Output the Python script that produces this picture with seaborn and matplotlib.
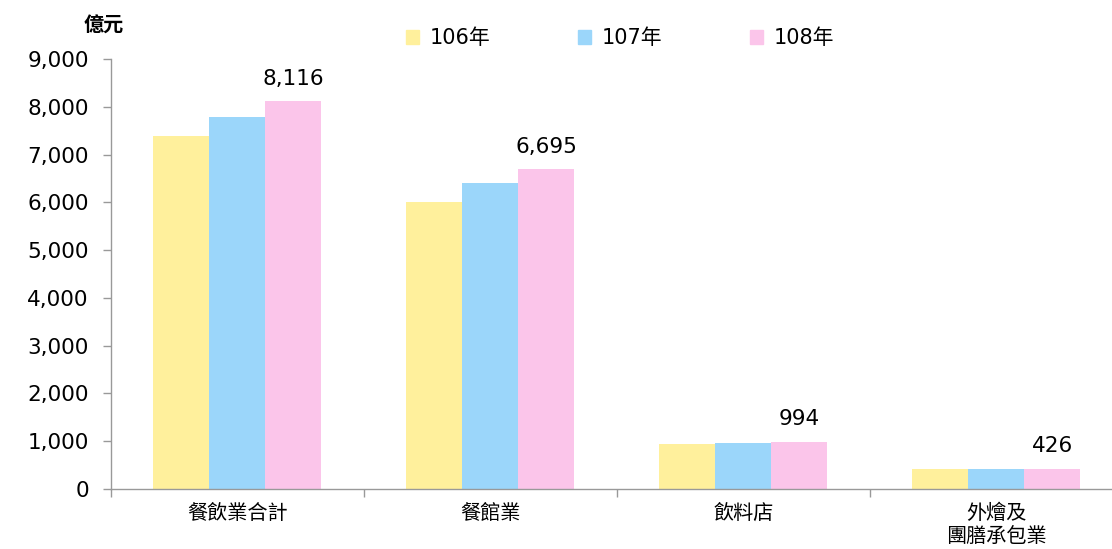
import matplotlib.pyplot as plt
import seaborn as sns
import pandas as pd
import numpy as np

sns.set_theme(style="white")
plt.rcParams["font.family"] = ["DejaVu Sans", "Noto Sans CJK TC"]
plt.rcParams["text.color"] = "black"
plt.rcParams["xtick.color"] = "black"
plt.rcParams["ytick.color"] = "black"

categories = ["餐飲業合計", "餐館業", "飲料店", "外燴及\n團膳承包業"]
years = ["106年", "107年", "108年"]
v106 = [7385, 6004, 941, 418]
v107 = [7782, 6402, 962, 420]
v108 = [8116, 6695, 994, 426]
colors = ["#FFF09C", "#9BD6FA", "#FBC5EA"]

df = pd.DataFrame({
    "類別": categories * 3,
    "年": [years[0]] * 4 + [years[1]] * 4 + [years[2]] * 4,
    "億元": v106 + v107 + v108,
})

fig = plt.figure(figsize=(11.12, 5.49), dpi=100)
ax = fig.add_axes([0.0998, 0.1093, 0.910, 0.7832])
sns.barplot(data=df, x="類別", y="億元", hue="年", hue_order=years,
            palette=colors, width=0.664, saturation=1, linewidth=0,
            ax=ax, legend=False)

# 只標示108年數值
ax.bar_label(ax.containers[2], labels=[f"{v:,}" for v in v108],
             padding=9, fontsize=15.5)

ax.set_ylim(0, 9000)
ax.set_xlim(-0.5, 3.5)
ax.set_yticks(np.arange(0, 9001, 1000))
ax.set_yticklabels([f"{v:,}" for v in range(0, 9001, 1000)], fontsize=15.5)
ax.set_xticks(range(4))
ax.set_xticklabels(categories, fontsize=14.5, linespacing=1.15,
                   family="Noto Sans CJK TC")
ax.tick_params(axis="x", length=0, pad=10)
ax.tick_params(axis="y", length=6, color="#999999", width=1, left=True, pad=10)
ax.set_xticks(np.arange(-0.5, 4, 1), minor=True)
ax.tick_params(axis="x", which="minor", bottom=True, length=6, color="#999999")
ax.set_xlabel("")
ax.set_ylabel("")
for s in ["top", "right"]:
    ax.spines[s].set_visible(False)
for s in ["left", "bottom"]:
    ax.spines[s].set_color("#999999")
    ax.spines[s].set_linewidth(1)

handles = [plt.Rectangle((0, 0), 1, 1, color=c) for c in colors]
ax.legend(handles, years, ncol=3, loc="center", bbox_to_anchor=(0.503, 1.049),
          frameon=False, fontsize=15, handlelength=0.65, handleheight=0.65,
          columnspacing=4.2, handletextpad=0.5)

fig.text(0.0935, 0.954, "億元", fontsize=14.5, fontweight="bold", ha="center",
         va="center", family="Noto Sans CJK TC")

plt.savefig("out.png", dpi=100)
